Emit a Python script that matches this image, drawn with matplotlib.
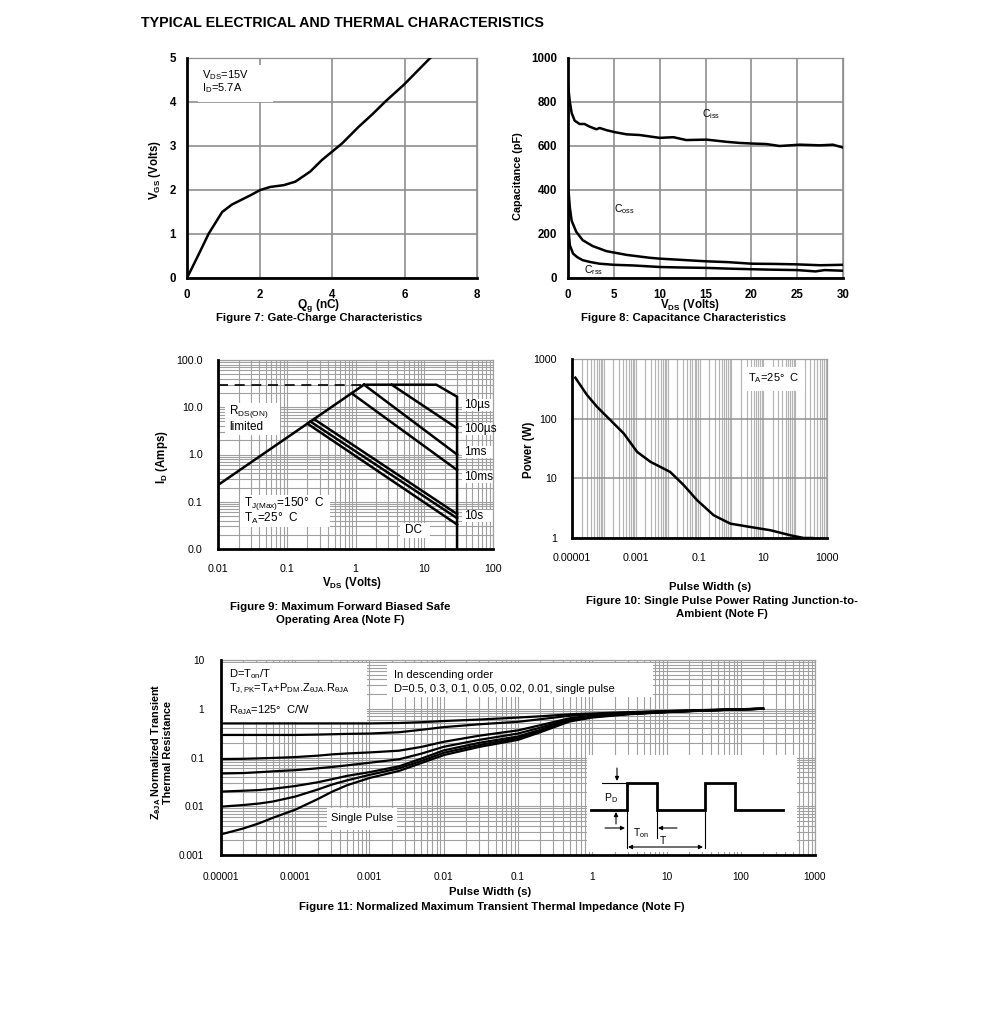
import matplotlib
matplotlib.use('Agg')
import matplotlib.pyplot as plt
import numpy as np
from matplotlib.patches import Rectangle
from matplotlib.ticker import LogLocator, FixedLocator, NullFormatter

plt.rcParams['font.family'] = ['Liberation Sans', 'DejaVu Sans']
plt.rcParams['mathtext.fontset'] = 'custom'
plt.rcParams['mathtext.rm'] = 'Liberation Sans'
plt.rcParams['mathtext.it'] = 'Liberation Sans:italic'
plt.rcParams['mathtext.bf'] = 'Liberation Sans:bold'

# ---------------- data ----------------
# Figure 7: gate charge
qg = [0, 0.3, 0.6, 0.97, 1.24, 1.75, 2.02, 2.3, 2.67, 2.99, 3.4, 3.72, 4.0, 4.28, 4.74, 5.1, 5.47, 5.98, 6.35, 6.71]
vgs = [0, 0.5, 1.01, 1.5, 1.67, 1.88, 2.0, 2.07, 2.11, 2.19, 2.42, 2.68, 2.87, 3.06, 3.44, 3.71, 4.01, 4.39, 4.7, 5.0]

# Figure 8: capacitance
vds_iss = [0, 0.2, 0.4, 0.73, 1.27, 1.8, 2.36, 3.1, 3.45, 4.2, 5.1, 6.4, 7.8, 10, 11.5, 12.9, 15.1, 17.3, 18.7, 20.2, 21.6, 23.1, 25.3, 27.5, 28.9, 30]
ciss = [880, 800, 750, 715, 700, 700, 688, 676, 682, 672, 663, 653, 650, 637, 640, 627, 629, 619, 614, 611, 609, 600, 606, 603, 606, 593]
vds_oss = [0, 0.2, 0.4, 0.9, 1.6, 2.7, 4.2, 6.4, 8.9, 10, 12.5, 15, 17.5, 20, 22.5, 25, 27.5, 30]
coss = [430, 320, 260, 210, 172, 145, 122, 105, 92, 88, 82, 76, 72, 65, 64, 62, 58, 60]
vds_rss = [0, 0.1, 0.2, 0.55, 1.0, 1.6, 2.5, 3.45, 5, 7.1, 10, 12, 15, 18, 20, 22, 25, 27, 28, 30]
crss = [300, 200, 149, 111, 95, 81, 72, 65, 60, 57, 50, 48, 46, 42, 40, 38, 36, 30, 36, 33]

# Figure 9: SOA
rds_v = [0.01, 1.33]
rds_i = [0.226, 30]
lim_v = [0.01, 1.33]
lim_i = [30, 30]
soa_lines = {
    '10us': ([1.33, 15, 30, 30], [30, 30, 16.7, 0.01]),
    '100us': ([3.36, 30], [30, 3.6]),
    '1ms': ([1.33, 30], [30, 1.0]),
    '10ms': ([0.88, 30], [19.7, 0.47]),
    '100ms': ([0.25, 30], [5.6, 0.055]),
    '10s': ([0.22, 30], [5.0, 0.045]),
    'DC': ([0.2, 30], [4.5, 0.033]),
}
soa_labels = ['10µs', '100µs', '1ms', '10ms', '10s']

# Figure 10: single pulse power
pw = [1.27e-5, 2.96e-5, 6.1e-5, 1.6e-4, 4.2e-4, 1.1e-3, 2.9e-3, 1.2e-2, 3.2e-2, 8.4e-2, 0.28, 0.93, 3.9, 16.7, 71, 186, 340]
ppk = [486, 249, 158, 94.6, 56.5, 27.8, 18.9, 12.8, 7.7, 4.3, 2.4, 1.74, 1.53, 1.35, 1.11, 1.0, 1.0]

# Figure 11: transient thermal impedance
tz = [1e-5, 2e-5, 3.3e-5, 5e-5, 1e-4, 2e-4, 3.16e-4, 5e-4, 1e-3, 2.5e-3, 5e-3, 1e-2, 3e-2, 0.1, 0.2, 0.5, 1, 3, 10, 30, 100, 200]
z05 = [0.50, 0.50, 0.50, 0.50, 0.50, 0.50, 0.50, 0.50, 0.50, 0.51, 0.53, 0.56, 0.60, 0.66, 0.70, 0.77, 0.80, 0.85, 0.90, 0.94, 0.98, 1.0]
z03 = [0.29, 0.29, 0.29, 0.29, 0.29, 0.295, 0.30, 0.305, 0.31, 0.33, 0.37, 0.42, 0.48, 0.54, 0.61, 0.72, 0.77, 0.83, 0.89, 0.93, 0.98, 1.0]
z01 = [0.093, 0.094, 0.096, 0.098, 0.102, 0.109, 0.116, 0.121, 0.127, 0.138, 0.165, 0.21, 0.28, 0.36, 0.46, 0.64, 0.72, 0.80, 0.87, 0.92, 0.97, 1.0]
z005 = [0.047, 0.048, 0.050, 0.052, 0.055, 0.060, 0.064, 0.069, 0.078, 0.092, 0.12, 0.166, 0.23, 0.31, 0.41, 0.61, 0.70, 0.79, 0.86, 0.92, 0.97, 1.0]
z002 = [0.020, 0.0208, 0.0215, 0.0228, 0.026, 0.031, 0.036, 0.042, 0.050, 0.066, 0.095, 0.14, 0.20, 0.27, 0.37, 0.59, 0.69, 0.78, 0.86, 0.92, 0.97, 1.0]
z001 = [0.0098, 0.0106, 0.0114, 0.0125, 0.0158, 0.022, 0.028, 0.034, 0.044, 0.060, 0.085, 0.125, 0.18, 0.25, 0.35, 0.57, 0.68, 0.78, 0.86, 0.92, 0.97, 1.0]
zsp = [0.00265, 0.0035, 0.0045, 0.0058, 0.0085, 0.014, 0.020, 0.027, 0.038, 0.053, 0.077, 0.112, 0.165, 0.23, 0.33, 0.55, 0.66, 0.77, 0.85, 0.91, 0.97, 1.0]

# pulse schematic (inset, schematic units)
wave_x = [591, 627, 627, 657, 657, 705, 705, 735, 735, 783]
wave_y = [810, 810, 783, 783, 810, 810, 783, 783, 810, 810]

# ---------------- figure helpers ----------------
W, H = 991, 1009
fig = plt.figure(figsize=(W / 100, H / 100), dpi=100)
GRID = '#8f8f8f'
LGRID = '#a0a0a0'
LAB = 8.3   # axis label size
CAP = 8.2   # caption size
BOX = 8.0   # in-plot text size


def add_axes(l, t, r, b, **kw):
    return fig.add_axes([l / W, 1 - b / H, (r - l) / W, (b - t) / H], **kw)


def ftext(x, y, s, **kw):
    kw.setdefault('ha', 'center')
    kw.setdefault('va', 'center')
    return fig.text(x / W, 1 - y / H, s, **kw)


def white_box(ax, x0, y0, x1, y1):
    ax.add_patch(Rectangle((x0 / W, 1 - y1 / H), (x1 - x0) / W, (y1 - y0) / H,
                           transform=fig.transFigure, facecolor='white',
                           edgecolor='none', zorder=1.5, clip_on=False))


def style(ax, gridcolor=GRID, splw=2.0):
    for s in ['left', 'bottom']:
        ax.spines[s].set_linewidth(splw)
        ax.spines[s].set_color('black')
        ax.spines[s].set_zorder(6)
    for s in ['top', 'right']:
        ax.spines[s].set_linewidth(0.9)
        ax.spines[s].set_color(gridcolor)
    ax.tick_params(which='both', length=0)
    ax.set_axisbelow(True)


LW = 1.8

# ---------------- title ----------------
ftext(141, 23, 'TYPICAL ELECTRICAL AND THERMAL CHARACTERISTICS', ha='left',
      fontsize=10.3, fontweight='bold')

# ---------------- Figure 7 ----------------
ax7 = add_axes(187, 58, 477, 278)
style(ax7)
ax7.set_xlim(0, 8)
ax7.set_ylim(0, 5)
ax7.set_xticks([0, 2, 4, 6, 8])
ax7.set_yticks([0, 1, 2, 3, 4, 5])
ax7.grid(True, color=GRID, lw=1.2)
ax7.tick_params(labelsize=8.3, pad=8)
for lb in ax7.get_xticklabels() + ax7.get_yticklabels():
    lb.set_fontweight('bold')
ax7.plot(qg, vgs, color='black', lw=LW, zorder=3)
white_box(ax7, 198, 65, 273, 102)
ftext(202, 75, r'V$_{\mathregular{DS}}$=15V', ha='left', fontsize=BOX)
ftext(202, 88, r'I$_{\mathregular{D}}$=5.7A', ha='left', fontsize=BOX)
ftext(319, 305, r'Q$_{\mathregular{g}}$ (nC)', fontsize=8.6, fontweight='bold')
ftext(155, 170, r'V$_{\mathregular{GS}}$ (Volts)', fontsize=LAB, fontweight='bold', rotation=90)
ftext(319, 318, 'Figure 7: Gate-Charge Characteristics', fontsize=CAP, fontweight='bold')

# ---------------- Figure 8 ----------------
ax8 = add_axes(568, 58, 843, 278)
style(ax8)
ax8.set_xlim(0, 30)
ax8.set_ylim(0, 1000)
ax8.set_xticks([0, 5, 10, 15, 20, 25, 30])
ax8.set_yticks([0, 200, 400, 600, 800, 1000])
ax8.grid(True, color=GRID, lw=1.2)
ax8.tick_params(labelsize=8.3, pad=8)
for lb in ax8.get_xticklabels() + ax8.get_yticklabels():
    lb.set_fontweight('bold')
ax8.plot(vds_iss, ciss, color='black', lw=LW, zorder=3)
ax8.plot(vds_oss, coss, color='black', lw=LW, zorder=3)
ax8.plot(vds_rss, crss, color='black', lw=LW, zorder=3)
ftext(711, 114, r'C$_{\mathregular{iss}}$', fontsize=7.5)
ftext(624, 209, r'C$_{\mathregular{oss}}$', fontsize=7.5)
ftext(594, 270, r'C$_{\mathregular{rss}}$', fontsize=7.5)
ftext(690, 305, r'V$_{\mathregular{DS}}$ (Volts)', fontsize=LAB, fontweight='bold')
ftext(518, 176, 'Capacitance (pF)', fontsize=7.8, fontweight='bold', rotation=90)
ftext(684, 318, 'Figure 8: Capacitance Characteristics', fontsize=CAP, fontweight='bold')

# ---------------- Figure 9 ----------------
ax9 = add_axes(218, 360, 493, 549)
style(ax9, LGRID)
ax9.set_xscale('log')
ax9.set_yscale('log')
ax9.set_xlim(0.01, 100)
ax9.set_ylim(0.01, 100)
ax9.xaxis.set_major_locator(FixedLocator([0.01, 0.1, 1, 10, 100]))
ax9.yaxis.set_major_locator(FixedLocator([0.01, 0.1, 1, 10, 100]))
for a in (ax9.xaxis, ax9.yaxis):
    a.set_minor_locator(LogLocator(base=10, subs=np.arange(2, 10), numticks=100))
    a.set_minor_formatter(NullFormatter())
ax9.set_xticklabels(['0.01', '0.1', '1', '10', '100'])
ax9.set_yticklabels(['0.0', '0.1', '1.0', '10.0', '100.0'])
ax9.tick_params(labelsize=7.7, pad=11)
ax9.grid(True, which='both', color=LGRID, lw=0.8)
ax9.plot(lim_v, lim_i, color='black', lw=1.2, ls=(0, (6, 4)), zorder=3)
ax9.plot(rds_v, rds_i, color='black', lw=LW, zorder=3)
for k, (xv, yv) in soa_lines.items():
    ax9.plot(xv, yv, color='black', lw=LW, zorder=3, solid_joinstyle='miter')
white_box(ax9, 225, 403, 280, 435)
ftext(229, 412, r'R$_{\mathregular{DS(ON)}}$', ha='left', fontsize=8.5)
ftext(229, 427, 'limited', ha='left', fontsize=8.5)
white_box(ax9, 240, 495, 330, 527)
ftext(244, 503, r'T$_{\mathregular{J(Max)}}$=150°  C', ha='left', fontsize=8.5)
ftext(244, 518, r'T$_{\mathregular{A}}$=25°  C', ha='left', fontsize=8.5)
white_box(ax9, 400, 523, 430, 538)
ftext(413, 530, 'DC', fontsize=8.5)
for lab, yy in zip(soa_labels, [405, 429, 452, 477, 516]):
    white_box(ax9, 462, yy - 6, 493, yy + 6)
    ftext(464, yy, lab, ha='left', fontsize=8.5)
ftext(352, 583, r'V$_{\mathregular{DS}}$ (Volts)', fontsize=LAB, fontweight='bold')
ftext(162, 457, r'I$_{\mathregular{D}}$ (Amps)', fontsize=LAB, fontweight='bold', rotation=90)
ftext(340, 607, 'Figure 9: Maximum Forward Biased Safe', fontsize=CAP, fontweight='bold')
ftext(340, 620, 'Operating Area (Note F)', fontsize=CAP, fontweight='bold')

# ---------------- Figure 10 ----------------
ax10 = add_axes(572, 359, 827, 538)
style(ax10, LGRID)
ax10.set_xscale('log')
ax10.set_yscale('log')
ax10.set_xlim(1e-5, 1000)
ax10.set_ylim(1, 1000)
xdec = [1e-5, 1e-4, 1e-3, 1e-2, 1e-1, 1, 10, 100, 1000]
ax10.xaxis.set_major_locator(FixedLocator(xdec))
ax10.set_xticklabels(['0.00001', '', '0.001', '', '0.1', '', '10', '', '1000'])
ax10.xaxis.set_minor_locator(LogLocator(base=10, subs=np.arange(2, 10), numticks=100))
ax10.xaxis.set_minor_formatter(NullFormatter())
ax10.yaxis.set_major_locator(FixedLocator([1, 10, 100, 1000]))
ax10.set_yticklabels(['1', '10', '100', '1000'])
ax10.yaxis.set_minor_locator(FixedLocator([]))
ax10.tick_params(labelsize=7.7, pad=11)
ax10.grid(True, which='both', axis='x', color='#b4b4b4', lw=0.85)
ax10.grid(True, which='major', axis='y', color=GRID, lw=1.1)
ax10.plot(pw, ppk, color='black', lw=LW, zorder=3)
white_box(ax10, 745, 367, 805, 391)
ftext(748, 378, r'T$_{\mathregular{A}}$=25°  C', ha='left', fontsize=BOX)
ftext(710, 587, 'Pulse Width (s)', fontsize=CAP, fontweight='bold')
ftext(722, 601, 'Figure 10: Single Pulse Power Rating Junction-to-', fontsize=CAP, fontweight='bold')
ftext(722, 614, 'Ambient (Note F)', fontsize=CAP, fontweight='bold')
ftext(529, 450, 'Power (W)', fontsize=LAB, fontweight='bold', rotation=90)

# ---------------- Figure 11 ----------------
ax11 = add_axes(221, 660, 815, 855)
style(ax11, LGRID)
ax11.set_xscale('log')
ax11.set_yscale('log')
ax11.set_xlim(1e-5, 1000)
ax11.set_ylim(0.001, 10)
ax11.xaxis.set_major_locator(FixedLocator(xdec))
ax11.set_xticklabels(['0.00001', '0.0001', '0.001', '0.01', '0.1', '1', '10', '100', '1000'])
ax11.yaxis.set_major_locator(FixedLocator([0.001, 0.01, 0.1, 1, 10]))
ax11.set_yticklabels(['0.001', '0.01', '0.1', '1', '10'])
for a in (ax11.xaxis, ax11.yaxis):
    a.set_minor_locator(LogLocator(base=10, subs=np.arange(2, 10), numticks=100))
    a.set_minor_formatter(NullFormatter())
ax11.tick_params(labelsize=7.3, pad=12)
ax11.grid(True, which='both', color=LGRID, lw=0.8)
for zz in (z05, z03, z01, z005, z002, z001, zsp):
    ax11.plot(tz, zz, color='black', lw=1.6, zorder=3, solid_joinstyle='round')
white_box(ax11, 222, 663, 367, 722)
ftext(229, 674, r'D=T$_{\mathregular{on}}$/T', ha='left', fontsize=BOX)
ftext(229, 689, r'T$_{\mathregular{J,PK}}$=T$_{\mathregular{A}}$+P$_{\mathregular{DM}}$.Z$_{\mathregular{θJA}}$.R$_{\mathregular{θJA}}$',
      ha='left', fontsize=BOX)
ftext(229, 710, r'R$_{\mathregular{θJA}}$=125°  C/W', ha='left', fontsize=BOX)
white_box(ax11, 387, 663, 653, 697)
ftext(394, 675, 'In descending order', ha='left', fontsize=BOX)
ftext(394, 689, 'D=0.5, 0.3, 0.1, 0.05, 0.02, 0.01, single pulse', ha='left', fontsize=BOX)
white_box(ax11, 327, 808, 397, 830)
ftext(331, 818, 'Single Pulse', ha='left', fontsize=BOX)
ftext(490, 892, 'Pulse Width (s)', fontsize=CAP, fontweight='bold')
ftext(492, 907, 'Figure 11: Normalized Maximum Transient Thermal Impedance (Note F)',
      fontsize=CAP, fontweight='bold')
ftext(161, 752, r'Z$_{\mathregular{θJA}}$ Normalized Transient' + '\n' + 'Thermal Resistance',
      fontsize=7.8, fontweight='bold', rotation=90, linespacing=1.0)

# inset schematic
ins = add_axes(587, 755, 797, 852)
ins.set_xlim(587, 797)
ins.set_ylim(852, 755)
ins.set_facecolor('white')
ins.set_xticks([])
ins.set_yticks([])
for s in ins.spines.values():
    s.set_visible(False)
ins.plot(wave_x, wave_y, color='black', lw=2.0, solid_joinstyle='miter')
thin = dict(color='black', lw=0.8)
ins.plot([627, 627], [810, 848], **thin)
ins.plot([657, 657], [810, 838], **thin)
ins.plot([705, 705], [810, 848], **thin)
ins.plot([602, 627], [783, 783], **thin)
ap = dict(arrowstyle='-|>', lw=0.8, color='black', mutation_scale=6, shrinkA=0, shrinkB=0)
ins.annotate('', xy=(617, 781), xytext=(617, 768), arrowprops=ap)
ins.annotate('', xy=(616, 812), xytext=(616, 824), arrowprops=ap)
ins.annotate('', xy=(625, 828), xytext=(605, 828), arrowprops=ap)
ins.annotate('', xy=(658, 828), xytext=(677, 828), arrowprops=ap)
ins.annotate('', xy=(703, 847), xytext=(628, 847),
             arrowprops=dict(arrowstyle='<|-|>', lw=0.8, color='black', mutation_scale=6,
                             shrinkA=0, shrinkB=0))
ins.text(611, 798, r'P$_{\mathregular{D}}$', fontsize=7.5, ha='center', va='center')
ins.text(641, 833, r'T$_{\mathregular{on}}$', fontsize=7.5, ha='center', va='center')
ins.text(663, 841, 'T', fontsize=7.5, ha='center', va='center')

fig.savefig('out.png', dpi=100)
